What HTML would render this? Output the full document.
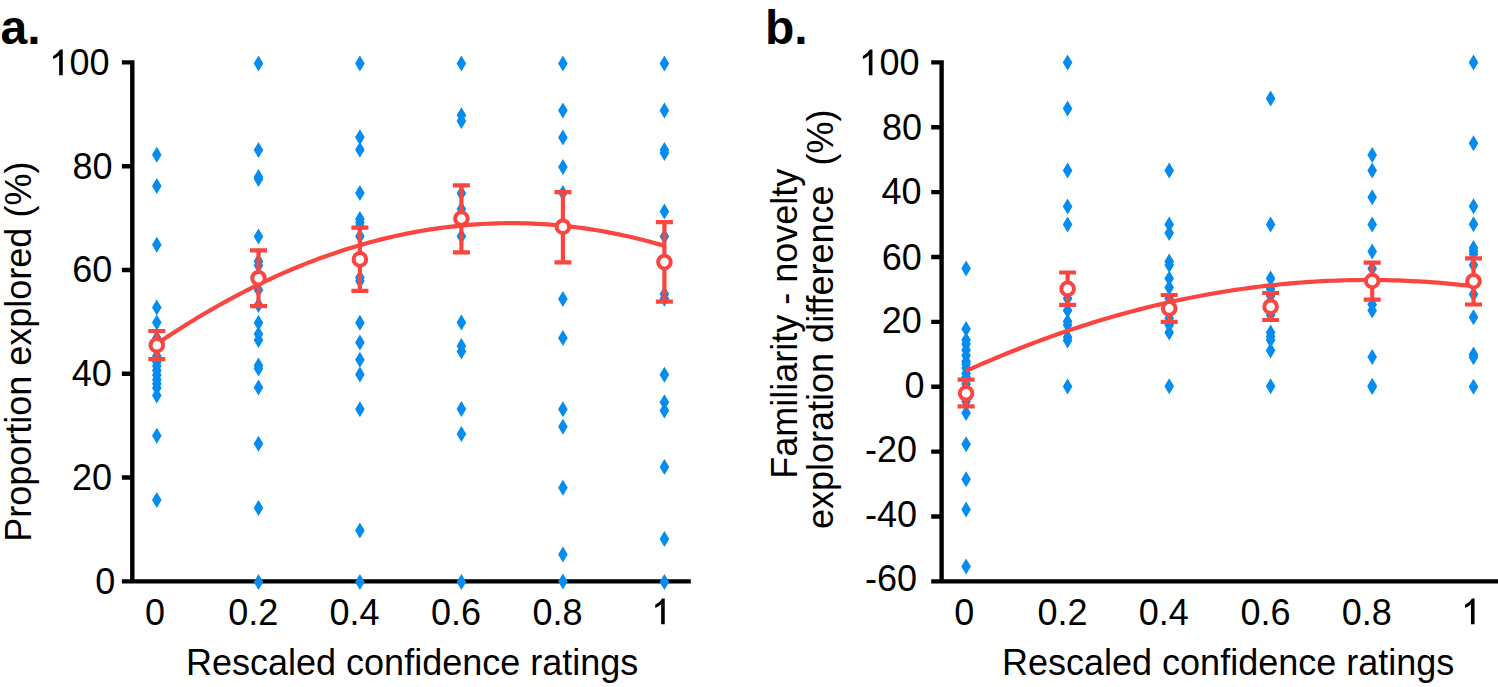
<!DOCTYPE html>
<html><head><meta charset="utf-8"><title>Figure</title>
<style>html,body{margin:0;padding:0;background:#fff;overflow:hidden}svg{display:block}text{font-family:"Liberation Sans", sans-serif}</style>
</head><body>
<svg width="1498" height="687" viewBox="0 0 1498 687" font-family='"Liberation Sans", sans-serif' fill="#000">
<rect width="1498" height="687" fill="#fff"/>
<path fill="none" stroke="#000" stroke-width="4.4" stroke-linecap="butt" d="M132.30,60.20V581.35M121.90,581.35H690.80M121.90,62.40H132.30M121.90,166.19H132.30M121.90,269.98H132.30M121.90,373.77H132.30M121.90,477.56H132.30M121.90,581.35H132.30"/>
<path fill="none" stroke="#000" stroke-width="4.4" stroke-linecap="butt" d="M941.60,60.20V581.35M931.20,581.35H1498.50M931.20,62.40H941.60M931.20,127.27H941.60M931.20,192.14H941.60M931.20,257.01H941.60M931.20,321.88H941.60M931.20,386.74H941.60M931.20,451.61H941.60M931.20,516.48H941.60M931.20,581.35H941.60"/>
<text x="92.44" y="179.20" font-size="36" text-anchor="middle" font-weight="normal" >80</text>
<text x="92.35" y="282.20" font-size="36" text-anchor="middle" font-weight="normal" >60</text>
<text x="91.85" y="386.20" font-size="36" text-anchor="middle" font-weight="normal" >40</text>
<text x="91.98" y="490.10" font-size="36" text-anchor="middle" font-weight="normal" >20</text>
<text x="105.30" y="594.00" font-size="36" text-anchor="middle" font-weight="normal" >0</text>
<text x="902.10" y="140.25" font-size="36" text-anchor="middle" font-weight="normal" >80</text>
<text x="901.60" y="204.40" font-size="36" text-anchor="middle" font-weight="normal" >40</text>
<text x="901.85" y="269.55" font-size="36" text-anchor="middle" font-weight="normal" >60</text>
<text x="901.85" y="333.10" font-size="36" text-anchor="middle" font-weight="normal" >20</text>
<text x="914.45" y="398.00" font-size="36" text-anchor="middle" font-weight="normal" >0</text>
<text x="891.05" y="462.40" font-size="36" text-anchor="middle" font-weight="normal" >-20</text>
<text x="891.05" y="527.00" font-size="36" text-anchor="middle" font-weight="normal" >-40</text>
<text x="891.05" y="591.10" font-size="36" text-anchor="middle" font-weight="normal" >-60</text>
<text x="154.90" y="625.20" font-size="36" text-anchor="middle" font-weight="normal" >0</text>
<text x="253.30" y="625.20" font-size="36" text-anchor="middle" font-weight="normal" >0.2</text>
<text x="354.45" y="625.20" font-size="36" text-anchor="middle" font-weight="normal" >0.4</text>
<text x="456.10" y="625.20" font-size="36" text-anchor="middle" font-weight="normal" >0.6</text>
<text x="557.40" y="625.20" font-size="36" text-anchor="middle" font-weight="normal" >0.8</text>
<text x="964.35" y="625.20" font-size="36" text-anchor="middle" font-weight="normal" >0</text>
<text x="1062.45" y="625.20" font-size="36" text-anchor="middle" font-weight="normal" >0.2</text>
<text x="1163.75" y="625.20" font-size="36" text-anchor="middle" font-weight="normal" >0.4</text>
<text x="1265.40" y="625.20" font-size="36" text-anchor="middle" font-weight="normal" >0.6</text>
<text x="1366.70" y="625.20" font-size="36" text-anchor="middle" font-weight="normal" >0.8</text>
<text x="89.50" y="75.05" font-size="36" text-anchor="middle" font-weight="normal" >00</text>
<text x="899.40" y="75.05" font-size="36" text-anchor="middle" font-weight="normal" >00</text>
<path d="M62.75,75.30L59.15,75.30L59.15,55.30Q57.20,57.20 53.20,59.10L53.20,55.90Q57.90,53.50 60.20,49.50L62.75,49.50Z"/>
<path d="M872.45,75.30L868.85,75.30L868.85,55.30Q866.90,57.20 862.90,59.10L862.90,55.90Q867.60,53.50 869.90,49.50L872.45,49.50Z"/>
<path d="M664.75,624.20L661.15,624.20L661.15,604.20Q659.20,606.10 655.20,608.00L655.20,604.80Q659.90,602.40 662.20,598.40L664.75,598.40Z"/>
<path d="M1474.55,624.20L1470.95,624.20L1470.95,604.20Q1469.00,606.10 1465.00,608.00L1465.00,604.80Q1469.70,602.40 1472.00,598.40L1474.55,598.40Z"/>
<text x="186.00" y="674.90" font-size="36" text-anchor="start" font-weight="normal" >Rescaled confidence ratings</text>
<text x="1002.00" y="674.90" font-size="36" text-anchor="start" font-weight="normal" >Rescaled confidence ratings</text>
<text transform="translate(30.9,541.8) rotate(-90)" font-size="36">Proportion explored (%)</text>
<text transform="translate(796.8,478.8) rotate(-90)" font-size="36">Familiarity - novelty</text>
<text transform="translate(833.1,529.0) rotate(-90)" font-size="36" style="white-space:pre" xml:space="preserve">exploration difference  (%)</text>
<text x="0.50" y="43.70" font-size="48" text-anchor="start" font-weight="bold" >a.</text>
<text x="765.00" y="43.70" font-size="48" text-anchor="start" font-weight="bold" >b.</text>
<path fill="#048cef" d="M156.80,146.85L161.60,154.85L156.80,162.85L152.00,154.85ZM156.80,178.00L161.60,186.00L156.80,194.00L152.00,186.00ZM156.80,236.85L161.60,244.85L156.80,252.85L152.00,244.85ZM156.80,299.60L161.60,307.60L156.80,315.60L152.00,307.60ZM156.80,314.40L161.60,322.40L156.80,330.40L152.00,322.40ZM156.80,330.00L161.60,338.00L156.80,346.00L152.00,338.00ZM156.80,348.00L161.60,356.00L156.80,364.00L152.00,356.00ZM156.80,354.00L161.60,362.00L156.80,370.00L152.00,362.00ZM156.80,358.00L161.60,366.00L156.80,374.00L152.00,366.00ZM156.80,362.50L161.60,370.50L156.80,378.50L152.00,370.50ZM156.80,367.00L161.60,375.00L156.80,383.00L152.00,375.00ZM156.80,371.70L161.60,379.70L156.80,387.70L152.00,379.70ZM156.80,375.80L161.60,383.80L156.80,391.80L152.00,383.80ZM156.80,380.00L161.60,388.00L156.80,396.00L152.00,388.00ZM156.80,387.50L161.60,395.50L156.80,403.50L152.00,395.50ZM156.80,427.80L161.60,435.80L156.80,443.80L152.00,435.80ZM156.80,492.10L161.60,500.10L156.80,508.10L152.00,500.10ZM258.50,55.40L263.30,63.40L258.50,71.40L253.70,63.40ZM258.50,142.00L263.30,150.00L258.50,158.00L253.70,150.00ZM258.50,169.00L263.30,177.00L258.50,185.00L253.70,177.00ZM258.50,171.00L263.30,179.00L258.50,187.00L253.70,179.00ZM258.50,228.50L263.30,236.50L258.50,244.50L253.70,236.50ZM258.50,253.30L263.30,261.30L258.50,269.30L253.70,261.30ZM258.50,257.40L263.30,265.40L258.50,273.40L253.70,265.40ZM258.50,282.00L263.30,290.00L258.50,298.00L253.70,290.00ZM258.50,297.00L263.30,305.00L258.50,313.00L253.70,305.00ZM258.50,314.80L263.30,322.80L258.50,330.80L253.70,322.80ZM258.50,326.00L263.30,334.00L258.50,342.00L253.70,334.00ZM258.50,332.10L263.30,340.10L258.50,348.10L253.70,340.10ZM258.50,357.50L263.30,365.50L258.50,373.50L253.70,365.50ZM258.50,360.50L263.30,368.50L258.50,376.50L253.70,368.50ZM258.50,379.60L263.30,387.60L258.50,395.60L253.70,387.60ZM258.50,435.70L263.30,443.70L258.50,451.70L253.70,443.70ZM258.50,500.00L263.30,508.00L258.50,516.00L253.70,508.00ZM258.50,574.00L263.30,582.00L258.50,590.00L253.70,582.00ZM359.90,55.50L364.70,63.50L359.90,71.50L355.10,63.50ZM359.90,129.30L364.70,137.30L359.90,145.30L355.10,137.30ZM359.90,141.70L364.70,149.70L359.90,157.70L355.10,149.70ZM359.90,185.10L364.70,193.10L359.90,201.10L355.10,193.10ZM359.90,211.00L364.70,219.00L359.90,227.00L355.10,219.00ZM359.90,214.50L364.70,222.50L359.90,230.50L355.10,222.50ZM359.90,218.00L364.70,226.00L359.90,234.00L355.10,226.00ZM359.90,228.20L364.70,236.20L359.90,244.20L355.10,236.20ZM359.90,269.50L364.70,277.50L359.90,285.50L355.10,277.50ZM359.90,273.00L364.70,281.00L359.90,289.00L355.10,281.00ZM359.90,314.70L364.70,322.70L359.90,330.70L355.10,322.70ZM359.90,334.50L364.70,342.50L359.90,350.50L355.10,342.50ZM359.90,351.80L364.70,359.80L359.90,367.80L355.10,359.80ZM359.90,366.50L364.70,374.50L359.90,382.50L355.10,374.50ZM359.90,401.30L364.70,409.30L359.90,417.30L355.10,409.30ZM359.90,522.40L364.70,530.40L359.90,538.40L355.10,530.40ZM359.90,574.00L364.70,582.00L359.90,590.00L355.10,582.00ZM461.40,55.50L466.20,63.50L461.40,71.50L456.60,63.50ZM461.40,107.30L466.20,115.30L461.40,123.30L456.60,115.30ZM461.40,113.10L466.20,121.10L461.40,129.10L456.60,121.10ZM461.40,185.30L466.20,193.30L461.40,201.30L456.60,193.30ZM461.40,201.00L466.20,209.00L461.40,217.00L456.60,209.00ZM461.40,228.30L466.20,236.30L461.40,244.30L456.60,236.30ZM461.40,314.60L466.20,322.60L461.40,330.60L456.60,322.60ZM461.40,338.00L466.20,346.00L461.40,354.00L456.60,346.00ZM461.40,343.60L466.20,351.60L461.40,359.60L456.60,351.60ZM461.40,401.10L466.20,409.10L461.40,417.10L456.60,409.10ZM461.40,426.00L466.20,434.00L461.40,442.00L456.60,434.00ZM461.40,574.00L466.20,582.00L461.40,590.00L456.60,582.00ZM562.90,55.50L567.70,63.50L562.90,71.50L558.10,63.50ZM562.90,102.40L567.70,110.40L562.90,118.40L558.10,110.40ZM562.90,129.40L567.70,137.40L562.90,145.40L558.10,137.40ZM562.90,159.10L567.70,167.10L562.90,175.10L558.10,167.10ZM562.90,185.00L567.70,193.00L562.90,201.00L558.10,193.00ZM562.90,291.00L567.70,299.00L562.90,307.00L558.10,299.00ZM562.90,329.90L567.70,337.90L562.90,345.90L558.10,337.90ZM562.90,401.20L567.70,409.20L562.90,417.20L558.10,409.20ZM562.90,418.70L567.70,426.70L562.90,434.70L558.10,426.70ZM562.90,479.70L567.70,487.70L562.90,495.70L558.10,487.70ZM562.90,546.60L567.70,554.60L562.90,562.60L558.10,554.60ZM562.90,573.60L567.70,581.60L562.90,589.60L558.10,581.60ZM664.40,55.50L669.20,63.50L664.40,71.50L659.60,63.50ZM664.40,102.40L669.20,110.40L664.40,118.40L659.60,110.40ZM664.40,142.10L669.20,150.10L664.40,158.10L659.60,150.10ZM664.40,145.10L669.20,153.10L664.40,161.10L659.60,153.10ZM664.40,203.40L669.20,211.40L664.40,219.40L659.60,211.40ZM664.40,228.50L669.20,236.50L664.40,244.50L659.60,236.50ZM664.40,286.00L669.20,294.00L664.40,302.00L659.60,294.00ZM664.40,290.70L669.20,298.70L664.40,306.70L659.60,298.70ZM664.40,366.70L669.20,374.70L664.40,382.70L659.60,374.70ZM664.40,394.20L669.20,402.20L664.40,410.20L659.60,402.20ZM664.40,402.40L669.20,410.40L664.40,418.40L659.60,410.40ZM664.40,459.00L669.20,467.00L664.40,475.00L659.60,467.00ZM664.40,531.10L669.20,539.10L664.40,547.10L659.60,539.10ZM664.40,574.10L669.20,582.10L664.40,590.10L659.60,582.10Z"/>
<path fill="#048cef" d="M966.10,260.60L970.90,268.60L966.10,276.60L961.30,268.60ZM966.10,321.00L970.90,329.00L966.10,337.00L961.30,329.00ZM966.10,332.00L970.90,340.00L966.10,348.00L961.30,340.00ZM966.10,336.00L970.90,344.00L966.10,352.00L961.30,344.00ZM966.10,342.00L970.90,350.00L966.10,358.00L961.30,350.00ZM966.10,347.50L970.90,355.50L966.10,363.50L961.30,355.50ZM966.10,353.50L970.90,361.50L966.10,369.50L961.30,361.50ZM966.10,356.00L970.90,364.00L966.10,372.00L961.30,364.00ZM966.10,360.00L970.90,368.00L966.10,376.00L961.30,368.00ZM966.10,365.50L970.90,373.50L966.10,381.50L961.30,373.50ZM966.10,369.00L970.90,377.00L966.10,385.00L961.30,377.00ZM966.10,376.00L970.90,384.00L966.10,392.00L961.30,384.00ZM966.10,393.50L970.90,401.50L966.10,409.50L961.30,401.50ZM966.10,405.00L970.90,413.00L966.10,421.00L961.30,413.00ZM966.10,436.30L970.90,444.30L966.10,452.30L961.30,444.30ZM966.10,471.30L970.90,479.30L966.10,487.30L961.30,479.30ZM966.10,501.50L970.90,509.50L966.10,517.50L961.30,509.50ZM966.10,558.50L970.90,566.50L966.10,574.50L961.30,566.50ZM1067.60,54.60L1072.40,62.60L1067.60,70.60L1062.80,62.60ZM1067.60,100.60L1072.40,108.60L1067.60,116.60L1062.80,108.60ZM1067.60,162.50L1072.40,170.50L1067.60,178.50L1062.80,170.50ZM1067.60,198.60L1072.40,206.60L1067.60,214.60L1062.80,206.60ZM1067.60,216.50L1072.40,224.50L1067.60,232.50L1062.80,224.50ZM1067.60,290.50L1072.40,298.50L1067.60,306.50L1062.80,298.50ZM1067.60,302.40L1072.40,310.40L1067.60,318.40L1062.80,310.40ZM1067.60,313.50L1072.40,321.50L1067.60,329.50L1062.80,321.50ZM1067.60,317.00L1072.40,325.00L1067.60,333.00L1062.80,325.00ZM1067.60,329.20L1072.40,337.20L1067.60,345.20L1062.80,337.20ZM1067.60,332.50L1072.40,340.50L1067.60,348.50L1062.80,340.50ZM1067.60,378.60L1072.40,386.60L1067.60,394.60L1062.80,386.60ZM1169.20,162.40L1174.00,170.40L1169.20,178.40L1164.40,170.40ZM1169.20,216.60L1174.00,224.60L1169.20,232.60L1164.40,224.60ZM1169.20,225.00L1174.00,233.00L1169.20,241.00L1164.40,233.00ZM1169.20,253.50L1174.00,261.50L1169.20,269.50L1164.40,261.50ZM1169.20,257.00L1174.00,265.00L1169.20,273.00L1164.40,265.00ZM1169.20,270.60L1174.00,278.60L1169.20,286.60L1164.40,278.60ZM1169.20,279.40L1174.00,287.40L1169.20,295.40L1164.40,287.40ZM1169.20,290.50L1174.00,298.50L1169.20,306.50L1164.40,298.50ZM1169.20,310.30L1174.00,318.30L1169.20,326.30L1164.40,318.30ZM1169.20,317.00L1174.00,325.00L1169.20,333.00L1164.40,325.00ZM1169.20,324.50L1174.00,332.50L1169.20,340.50L1164.40,332.50ZM1169.20,378.30L1174.00,386.30L1169.20,394.30L1164.40,386.30ZM1270.60,90.40L1275.40,98.40L1270.60,106.40L1265.80,98.40ZM1270.60,216.50L1275.40,224.50L1270.60,232.50L1265.80,224.50ZM1270.60,270.40L1275.40,278.40L1270.60,286.40L1265.80,278.40ZM1270.60,280.90L1275.40,288.90L1270.60,296.90L1265.80,288.90ZM1270.60,288.00L1275.40,296.00L1270.60,304.00L1265.80,296.00ZM1270.60,307.00L1275.40,315.00L1270.60,323.00L1265.80,315.00ZM1270.60,324.50L1275.40,332.50L1270.60,340.50L1265.80,332.50ZM1270.60,328.60L1275.40,336.60L1270.60,344.60L1265.80,336.60ZM1270.60,332.00L1275.40,340.00L1270.60,348.00L1265.80,340.00ZM1270.60,342.50L1275.40,350.50L1270.60,358.50L1265.80,350.50ZM1270.60,378.30L1275.40,386.30L1270.60,394.30L1265.80,386.30ZM1372.20,146.90L1377.00,154.90L1372.20,162.90L1367.40,154.90ZM1372.20,162.50L1377.00,170.50L1372.20,178.50L1367.40,170.50ZM1372.20,189.30L1377.00,197.30L1372.20,205.30L1367.40,197.30ZM1372.20,216.60L1377.00,224.60L1372.20,232.60L1367.40,224.60ZM1372.20,243.40L1377.00,251.40L1372.20,259.40L1367.40,251.40ZM1372.20,260.60L1377.00,268.60L1372.20,276.60L1367.40,268.60ZM1372.20,296.50L1377.00,304.50L1372.20,312.50L1367.40,304.50ZM1372.20,302.50L1377.00,310.50L1372.20,318.50L1367.40,310.50ZM1372.20,349.10L1377.00,357.10L1372.20,365.10L1367.40,357.10ZM1372.20,377.70L1377.00,385.70L1372.20,393.70L1367.40,385.70ZM1372.20,379.00L1377.00,387.00L1372.20,395.00L1367.40,387.00ZM1473.50,54.40L1478.30,62.40L1473.50,70.40L1468.70,62.40ZM1473.50,135.30L1478.30,143.30L1473.50,151.30L1468.70,143.30ZM1473.50,198.30L1478.30,206.30L1473.50,214.30L1468.70,206.30ZM1473.50,216.30L1478.30,224.30L1473.50,232.30L1468.70,224.30ZM1473.50,240.00L1478.30,248.00L1473.50,256.00L1468.70,248.00ZM1473.50,243.00L1478.30,251.00L1473.50,259.00L1468.70,251.00ZM1473.50,246.00L1478.30,254.00L1473.50,262.00L1468.70,254.00ZM1473.50,257.10L1478.30,265.10L1473.50,273.10L1468.70,265.10ZM1473.50,286.20L1478.30,294.20L1473.50,302.20L1468.70,294.20ZM1473.50,309.20L1478.30,317.20L1473.50,325.20L1468.70,317.20ZM1473.50,346.60L1478.30,354.60L1473.50,362.60L1468.70,354.60ZM1473.50,349.20L1478.30,357.20L1473.50,365.20L1468.70,357.20ZM1473.50,378.70L1478.30,386.70L1473.50,394.70L1468.70,386.70Z"/>
<path fill="none" stroke="#fa4540" stroke-width="4.2" d="M156.80,343.94 L161.88,340.50 L166.95,337.11 L172.03,333.78 L177.10,330.49 L182.18,327.25 L187.26,324.06 L192.33,320.92 L197.41,317.83 L202.48,314.79 L207.56,311.80 L212.64,308.86 L217.71,305.97 L222.79,303.13 L227.86,300.33 L232.94,297.59 L238.02,294.90 L243.09,292.25 L248.17,289.66 L253.24,287.12 L258.32,284.62 L263.40,282.18 L268.47,279.78 L273.55,277.44 L278.62,275.14 L283.70,272.90 L288.78,270.70 L293.85,268.55 L298.93,266.45 L304.00,264.41 L309.08,262.41 L314.16,260.46 L319.23,258.56 L324.31,256.71 L329.38,254.91 L334.46,253.16 L339.54,251.46 L344.61,249.81 L349.69,248.21 L354.76,246.66 L359.84,245.16 L364.92,243.70 L369.99,242.30 L375.07,240.95 L380.14,239.65 L385.22,238.39 L390.30,237.19 L395.37,236.03 L400.45,234.93 L405.52,233.87 L410.60,232.87 L415.68,231.91 L420.75,231.00 L425.83,230.15 L430.90,229.34 L435.98,228.58 L441.06,227.88 L446.13,227.22 L451.21,226.61 L456.28,226.05 L461.36,225.54 L466.44,225.08 L471.51,224.67 L476.59,224.31 L481.66,224.00 L486.74,223.74 L491.82,223.53 L496.89,223.36 L501.97,223.25 L507.04,223.19 L512.12,223.17 L517.20,223.21 L522.27,223.30 L527.35,223.43 L532.42,223.62 L537.50,223.85 L542.58,224.14 L547.65,224.47 L552.73,224.86 L557.80,225.29 L562.88,225.77 L567.96,226.30 L573.03,226.89 L578.11,227.52 L583.18,228.20 L588.26,228.93 L593.34,229.71 L598.41,230.54 L603.49,231.42 L608.56,232.35 L613.64,233.33 L618.72,234.36 L623.79,235.44 L628.87,236.57 L633.94,237.74 L639.02,238.97 L644.10,240.25 L649.17,241.57 L654.25,242.95 L659.32,244.38 L664.40,245.85"/>
<path fill="none" stroke="#fa4540" stroke-width="4.2" d="M966.10,370.95 L971.17,368.67 L976.25,366.42 L981.32,364.20 L986.40,362.00 L991.47,359.84 L996.54,357.70 L1001.62,355.59 L1006.69,353.51 L1011.77,351.46 L1016.84,349.44 L1021.91,347.45 L1026.99,345.49 L1032.06,343.55 L1037.14,341.65 L1042.21,339.77 L1047.28,337.92 L1052.36,336.11 L1057.43,334.32 L1062.51,332.56 L1067.58,330.83 L1072.65,329.12 L1077.73,327.45 L1082.80,325.81 L1087.88,324.19 L1092.95,322.61 L1098.02,321.05 L1103.10,319.52 L1108.17,318.02 L1113.25,316.55 L1118.32,315.11 L1123.39,313.70 L1128.47,312.31 L1133.54,310.96 L1138.62,309.63 L1143.69,308.34 L1148.76,307.07 L1153.84,305.83 L1158.91,304.62 L1163.99,303.44 L1169.06,302.29 L1174.13,301.17 L1179.21,300.07 L1184.28,299.01 L1189.36,297.97 L1194.43,296.96 L1199.50,295.99 L1204.58,295.04 L1209.65,294.12 L1214.73,293.23 L1219.80,292.37 L1224.87,291.53 L1229.95,290.73 L1235.02,289.95 L1240.10,289.21 L1245.17,288.49 L1250.24,287.80 L1255.32,287.14 L1260.39,286.51 L1265.47,285.91 L1270.54,285.34 L1275.61,284.80 L1280.69,284.28 L1285.76,283.80 L1290.84,283.34 L1295.91,282.91 L1300.98,282.52 L1306.06,282.15 L1311.13,281.81 L1316.21,281.49 L1321.28,281.21 L1326.35,280.96 L1331.43,280.73 L1336.50,280.54 L1341.58,280.37 L1346.65,280.23 L1351.72,280.13 L1356.80,280.05 L1361.87,280.00 L1366.95,279.97 L1372.02,279.98 L1377.09,280.02 L1382.17,280.08 L1387.24,280.18 L1392.32,280.30 L1397.39,280.45 L1402.46,280.63 L1407.54,280.84 L1412.61,281.08 L1417.69,281.35 L1422.76,281.65 L1427.83,281.97 L1432.91,282.33 L1437.98,282.71 L1443.06,283.12 L1448.13,283.57 L1453.20,284.04 L1458.28,284.54 L1463.35,285.07 L1468.43,285.62 L1473.50,286.21"/>
<path fill="none" stroke="#fa4540" stroke-width="4.2" d="M156.80,331.00V359.20M148.30,331.00H165.30M148.30,359.20H165.30M258.50,250.30V306.20M250.00,250.30H267.00M250.00,306.20H267.00M359.90,227.70V290.80M351.40,227.70H368.40M351.40,290.80H368.40M461.40,185.30V252.30M452.90,185.30H469.90M452.90,252.30H469.90M562.90,192.20V262.40M554.40,192.20H571.40M554.40,262.40H571.40M664.40,222.10V301.60M655.90,222.10H672.90M655.90,301.60H672.90"/>
<circle cx="156.80" cy="345.20" r="6.3" fill="#fff" stroke="#fa4540" stroke-width="4"/>
<circle cx="258.50" cy="278.20" r="6.3" fill="#fff" stroke="#fa4540" stroke-width="4"/>
<circle cx="359.90" cy="259.40" r="6.3" fill="#fff" stroke="#fa4540" stroke-width="4"/>
<circle cx="461.40" cy="218.50" r="6.3" fill="#fff" stroke="#fa4540" stroke-width="4"/>
<circle cx="562.90" cy="226.70" r="6.3" fill="#fff" stroke="#fa4540" stroke-width="4"/>
<circle cx="664.40" cy="262.10" r="6.3" fill="#fff" stroke="#fa4540" stroke-width="4"/>
<path fill="none" stroke="#fa4540" stroke-width="4.2" d="M966.10,379.60V406.40M957.60,379.60H974.60M957.60,406.40H974.60M1067.60,272.50V304.90M1059.10,272.50H1076.10M1059.10,304.90H1076.10M1169.20,295.00V321.80M1160.70,295.00H1177.70M1160.70,321.80H1177.70M1270.60,293.00V320.00M1262.10,293.00H1279.10M1262.10,320.00H1279.10M1372.20,262.60V299.60M1363.70,262.60H1380.70M1363.70,299.60H1380.70M1473.50,258.40V304.50M1465.00,258.40H1482.00M1465.00,304.50H1482.00"/>
<circle cx="966.10" cy="393.30" r="6.3" fill="#fff" stroke="#fa4540" stroke-width="4"/>
<circle cx="1067.60" cy="288.90" r="6.3" fill="#fff" stroke="#fa4540" stroke-width="4"/>
<circle cx="1169.20" cy="308.40" r="6.3" fill="#fff" stroke="#fa4540" stroke-width="4"/>
<circle cx="1270.60" cy="306.70" r="6.3" fill="#fff" stroke="#fa4540" stroke-width="4"/>
<circle cx="1372.20" cy="281.00" r="6.3" fill="#fff" stroke="#fa4540" stroke-width="4"/>
<circle cx="1473.50" cy="281.20" r="6.3" fill="#fff" stroke="#fa4540" stroke-width="4"/>
</svg>
</body></html>
